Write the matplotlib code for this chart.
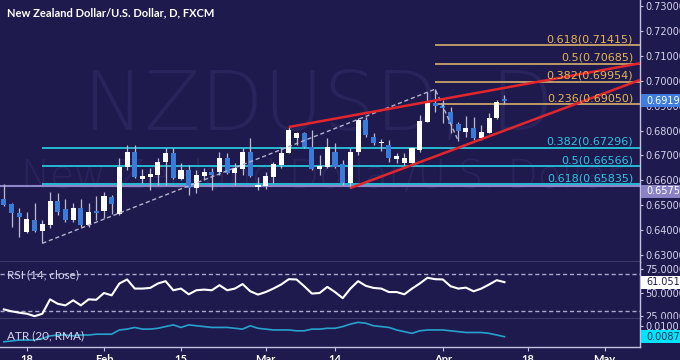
import numpy as np
import matplotlib
matplotlib.use('Agg')
import matplotlib.pyplot as plt
import matplotlib.transforms as mtransforms
from matplotlib.patches import Rectangle

plt.rcParams['font.family'] = ['DejaVu Sans']

# --- data (daily candles, Jan 13 -> Apr 13, trading-day index, 0 = Jan 18) ---
bar_idx = np.arange(-3, 63)
opens = [0.6525, 0.6505, 0.6469, 0.6392, 0.6441, 0.6396, 0.6421, 0.6517, 0.6485, 0.6441,
         0.6489, 0.6421, 0.6477, 0.6477, 0.6533, 0.6465, 0.6653, 0.6714, 0.6605, 0.6613,
         0.6621, 0.6673, 0.6710, 0.6605, 0.6641, 0.6569, 0.6617, 0.6633, 0.6633, 0.6690,
         0.6629, 0.6645, 0.6714, 0.6573, 0.6577, 0.6613, 0.6661, 0.6710, 0.6770, 0.6790,
         0.6734, 0.6645, 0.6653, 0.6714, 0.6665, 0.6589, 0.6714, 0.6842, 0.6774, 0.6750,
         0.6742, 0.6686, 0.6669, 0.6669, 0.6722, 0.6834, 0.6910, 0.6898, 0.6874, 0.6826,
         0.6794, 0.6810, 0.6770, 0.6790, 0.6850, 0.6921]
highs = [0.6585, 0.6509, 0.6489, 0.6473, 0.6509, 0.6441, 0.6553, 0.6549, 0.6525, 0.6509,
         0.6525, 0.6509, 0.6537, 0.6553, 0.6541, 0.6690, 0.6742, 0.6742, 0.6645, 0.6649,
         0.6690, 0.6730, 0.6730, 0.6669, 0.6661, 0.6641, 0.6649, 0.6649, 0.6714, 0.6710,
         0.6669, 0.6730, 0.6770, 0.6613, 0.6633, 0.6673, 0.6734, 0.6814, 0.6794, 0.6794,
         0.6802, 0.6702, 0.6770, 0.6750, 0.6682, 0.6730, 0.6850, 0.6854, 0.6790, 0.6766,
         0.6762, 0.6710, 0.6710, 0.6734, 0.6862, 0.6955, 0.6966, 0.6922, 0.6894, 0.6834,
         0.6858, 0.6854, 0.6822, 0.6870, 0.6922, 0.6943]
lows = [0.6497, 0.6412, 0.6372, 0.6388, 0.6392, 0.6347, 0.6408, 0.6461, 0.6433, 0.6433,
        0.6412, 0.6412, 0.6441, 0.6449, 0.6465, 0.6461, 0.6641, 0.6609, 0.6589, 0.6561,
        0.6581, 0.6581, 0.6605, 0.6601, 0.6541, 0.6549, 0.6601, 0.6561, 0.6621, 0.6625,
        0.6581, 0.6621, 0.6613, 0.6561, 0.6565, 0.6589, 0.6649, 0.6710, 0.6742, 0.6730,
        0.6641, 0.6621, 0.6649, 0.6649, 0.6581, 0.6569, 0.6702, 0.6774, 0.6742, 0.6718,
        0.6673, 0.6669, 0.6661, 0.6661, 0.6714, 0.6834, 0.6874, 0.6830, 0.6790, 0.6759,
        0.6774, 0.6762, 0.6762, 0.6790, 0.6846, 0.6906]
closes = [0.6501, 0.6469, 0.6453, 0.6445, 0.6396, 0.6425, 0.6517, 0.6473, 0.6441, 0.6489,
          0.6421, 0.6473, 0.6469, 0.6537, 0.6505, 0.6653, 0.6714, 0.6613, 0.6617, 0.6625,
          0.6673, 0.6710, 0.6609, 0.6641, 0.6569, 0.6621, 0.6633, 0.6621, 0.6690, 0.6629,
          0.6649, 0.6714, 0.6617, 0.6581, 0.6617, 0.6665, 0.6710, 0.6802, 0.6790, 0.6734,
          0.6645, 0.6657, 0.6734, 0.6653, 0.6589, 0.6714, 0.6842, 0.6782, 0.6750, 0.6754,
          0.6690, 0.6698, 0.6690, 0.6730, 0.6838, 0.6910, 0.6898, 0.6890, 0.6826, 0.6798,
          0.6810, 0.6770, 0.6794, 0.6850, 0.6914, 0.69199]
rsi = [32, 30, 28.5, 27.4, 24.8, 27.4, 42.7, 38, 36.3, 41.7,
       36.3, 42.7, 42.3, 49.5, 47, 59.6, 63.9, 54.2, 54.2, 54.9,
       59.6, 62.1, 52.4, 54.2, 48.1, 52.4, 53.1, 52.4, 57.8, 52.4,
       54.2, 59, 51.3, 47.8, 50.5, 54.2, 58.5, 64.2, 63.9, 56.7,
       48.9, 49.5, 56, 50.5, 44, 54.2, 62.1, 57.1, 54.9, 54.2,
       50.5, 50.5, 48.1, 54.2, 59.6, 65.7, 64.2, 63.9, 56.7, 54.2,
       55.2, 51.3, 54.2, 58.5, 63.1, 61.0511]
atr = [0.0081, 0.0082, 0.0083, 0.0083, 0.0083, 0.0085, 0.0088, 0.0089, 0.0089, 0.0088,
       0.0089, 0.0089, 0.0090, 0.0090, 0.0090, 0.0095, 0.0096, 0.0098, 0.0096, 0.0096,
       0.0097, 0.0099, 0.0101, 0.0098, 0.0101, 0.0100, 0.0099, 0.0098, 0.0098, 0.0098,
       0.0097, 0.0096, 0.0100, 0.0097, 0.0096, 0.0095, 0.0095, 0.0095, 0.0094, 0.0094,
       0.0096, 0.0096, 0.0097, 0.0097, 0.0099, 0.0102, 0.0104, 0.0103, 0.0100, 0.0099,
       0.0098, 0.0095, 0.0093, 0.0091, 0.0094, 0.0095, 0.0095, 0.0095, 0.0094, 0.0093,
       0.0092, 0.0092, 0.0092, 0.0091, 0.0089, 0.0087]

date_pos = [0, 10, 20, 31, 40, 54, 65, 75]
date_labels = ['18', 'Feb', '15', 'Mar', '14', 'Apr', '18', 'May']
price_ticks = [0.63, 0.64, 0.65, 0.66, 0.67, 0.68, 0.69, 0.70, 0.71, 0.72, 0.73]

ext_ratios = ['0.618', '0.5', '0.382', '0.236']
ext_levels = [0.71415, 0.70685, 0.69954, 0.69050]
ret_ratios = ['0.382', '0.5', '0.618']
ret_levels = [0.67296, 0.66566, 0.65835]
hline_level = 0.65756
last_price = 0.69199

# trend lines (bar index, price)
upper_x, upper_y = [34, 79.6], [0.6814, 0.7070]
lower_x, lower_y = [42, 79.6], [0.6569, 0.7003]
fib_x, fib_y = [2, 53, 56], [0.6347, 0.6966, 0.6759]

BG = '#1f1a4e'
BLUE = '#3c7ad8'
AXC = '#c3c0e0'
TXT = '#d6d4ec'
WM = '#29245c'
XMIN, XMAX = -3.5, 79.6

fig = plt.figure(figsize=(6.8, 3.6), dpi=100, facecolor=BG)
W, H = 680.0, 360.0


def px_axes(x0, y0, x1, y1):
    a = fig.add_axes([x0 / W, 1 - y1 / H, (x1 - x0) / W, (y1 - y0) / H])
    a.set_facecolor(BG)
    a.set_xlim(XMIN, XMAX)
    for s in ['top', 'left']:
        a.spines[s].set_visible(False)
    for s in ['right', 'bottom']:
        a.spines[s].set_color(AXC)
        a.spines[s].set_linewidth(1)
    a.yaxis.tick_right()
    a.tick_params(axis='y', colors=AXC, labelcolor=TXT, labelsize=7, length=2.5, pad=1.5, width=0.8)
    return a


ax = px_axes(0, 0, 640, 262)
rsi_ax = px_axes(0, 262, 640, 319)
atr_ax = px_axes(0, 319, 640, 347)


def price_box(a, y, txt, fc, tc, dy=0):
    lo, hi = a.get_ylim()
    ppu = a.bbox.height / (hi - lo)
    yc = y + dy / ppu
    h = 13 / ppu
    trans = mtransforms.blended_transform_factory(a.transAxes, a.transData)
    a.add_patch(Rectangle((1 + 1 / 640, yc - h / 2), 0.07, h, transform=trans, fc=fc, ec='none',
                          clip_on=False, zorder=10))
    a.text(1 + 6 / 640, yc, txt, transform=trans, color=tc, fontsize=7, ha='left', va='center',
           clip_on=False, zorder=11)


# ---------------- main price pane ----------------
ax.set_ylim(0.62719, 0.73241)
ax.set_xticks([])
ax.set_yticks(price_ticks, labels=['%.5f' % t for t in price_ticks])

ax.text(0.497, 0.504, 'NZDUSD, D', transform=ax.transAxes, ha='center', va='baseline',
        fontsize=59, fontweight='light', color=WM, zorder=0)
ax.text(0.503, 0.286, 'New Zealand Dollar/U.S. Dollar', transform=ax.transAxes, ha='center',
        va='baseline', fontsize=28, fontweight='light', color=WM, zorder=0)

ax.hlines(hline_level, XMIN, XMAX, color='#8e86c8', lw=1.5, zorder=2)
for r, v in zip(ext_ratios, ext_levels):
    ax.hlines(v, fib_x[1], XMAX, color='#c9a36a', lw=1.3, zorder=2)
    ax.annotate('%s(%.5f)' % (r, v), xy=(78.7, v), xytext=(0, 0.8), textcoords='offset points',
                ha='right', va='bottom', fontsize=8, color='#e6b450', zorder=6)
for r, v in zip(ret_ratios, ret_levels):
    ax.hlines(v, fib_x[0], XMAX, color='#27c4dc', lw=1.3, zorder=2)
    ax.annotate('%s(%.5f)' % (r, v), xy=(78.7, v), xytext=(0, 0.8), textcoords='offset points',
                ha='right', va='bottom', fontsize=8, color='#30c4e4', zorder=6)

o = np.array(opens)
c = np.array(closes)
up = c >= o
ax.vlines(bar_idx, lows, highs, color='#bcbad2', lw=0.9, zorder=3)
ax.bar(bar_idx, np.maximum(np.abs(c - o), 0.0005), bottom=np.minimum(o, c), width=0.66,
       color=np.where(up, 'white', BLUE), lw=0, zorder=4)

ax.plot(fib_x, fib_y, color='#b4b2cc', lw=1, ls=(0, (3, 2)), zorder=5)
ax.plot(upper_x, upper_y, color='#e3262c', lw=1.8, zorder=5, solid_capstyle='butt')
ax.plot(lower_x, lower_y, color='#e3262c', lw=1.8, zorder=5, solid_capstyle='butt')

price_box(ax, last_price, '%.5f' % last_price, '#3f7ee0', 'white')
price_box(ax, hline_level, '%.5f' % hline_level, '#8a82c4', 'white', dy=-5)

fig.text(7 / W, 1 - 13 / H, 'New Zealand Dollar/U.S. Dollar, D, FXCM', fontsize=8,
         fontweight='bold', family=['Lato', 'DejaVu Sans'], color='white', va='center')

# ---------------- RSI pane ----------------
rsi_ax.set_ylim(21.8, 82.5)
rsi_ax.set_xticks([])
rsi_ax.set_yticks([25, 50, 75], labels=['25.0000', '50.0000', '75.0000'])
for lvl in [70, 30]:
    rsi_ax.axhline(lvl, color='#aaa7cc', lw=1, ls=(0, (3, 2)))
rsi_ax.plot(bar_idx, rsi, color='white', lw=1.5, zorder=4)
rsi_ax.text(7 / 640, 0.78, 'RSI (14, close)', transform=rsi_ax.transAxes, fontsize=8.5,
            family=['Lato', 'DejaVu Sans'], color=TXT, va='center')
price_box(rsi_ax, rsi[-1], '%.4f' % rsi[-1], 'white', BG)
clip = mtransforms.TransformedBbox(mtransforms.Bbox([[0, 41 / H], [1, 1]]), fig.transFigure)
t25 = rsi_ax.yaxis.get_major_ticks()[0]
t25.label2.set_clip_on(True)
t25.label2.set_clip_box(clip)

# ---------------- ATR pane ----------------
atr_ax.set_ylim(0.00748, 0.0108)
atr_ax.set_yticks([0.01], labels=['0.0100'])
atr_ax.plot(bar_idx, atr, color='#27a2cc', lw=1.2, zorder=4)
atr_ax.text(7 / 640, 0.39, 'ATR (20, RMA)', transform=atr_ax.transAxes, fontsize=8.5,
            family=['Lato', 'DejaVu Sans'], color=TXT, va='center', zorder=5)
price_box(atr_ax, atr[-1], '%.4f' % atr[-1], '#00e5ff', '#1f3050')
atr_ax.set_xticks(date_pos, labels=date_labels)
atr_ax.tick_params(axis='x', colors=AXC, labelcolor='white', labelsize=8, length=3, pad=2, width=0.8)
for lab in atr_ax.get_xticklabels():
    lab.set_fontweight('bold')
    lab.set_family(['Lato', 'DejaVu Sans'])

fig.savefig('out.png', dpi=100, facecolor=BG)
